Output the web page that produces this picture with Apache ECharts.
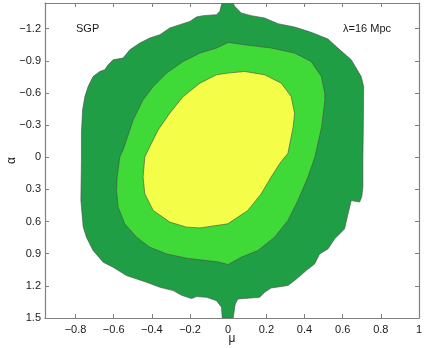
<!DOCTYPE html>
<html>
<head>
<meta charset="utf-8">
<script src="https://cdn.jsdelivr.net/npm/echarts@6/dist/echarts.min.js"></script>
<style>
html,body{margin:0;padding:0;background:#fff;}
#c{width:425px;height:348px;}
</style>
</head>
<body>
<div id="c"></div>
<script>
// Tick values
const muTicks = [-0.8, -0.6, -0.4, -0.2, 0, 0.2, 0.4, 0.6, 0.8, 1];
const alphaTicks = [-1.2, -0.9, -0.6, -0.3, 0, 0.3, 0.6, 0.9, 1.2, 1.5];

// Outer (lowest level) contour, [mu, alpha]
const outerContour = [
  [0.025,-1.44],[0.034,-1.409],[0.068,-1.347],[0.121,-1.322],[0.191,-1.300],[0.261,-1.247],
  [0.348,-1.216],[0.435,-1.166],[0.523,-1.104],[0.575,-1.020],[0.645,-0.910],[0.697,-0.754],
  [0.710,-0.660],[0.708,-0.255],[0.706,-0.003],[0.706,0.278],[0.700,0.369],[0.689,0.418],
  [0.645,0.404],[0.628,0.528],[0.610,0.668],[0.584,0.715],[0.558,0.761],[0.523,0.855],
  [0.479,0.902],[0.453,0.995],[0.409,1.057],[0.348,1.151],[0.313,1.197],[0.225,1.220],
  [0.191,1.260],[0.165,1.307],[0.051,1.323],[0.037,1.370],[0.026,1.5],
  [-0.031,1.5],[-0.035,1.400],[-0.061,1.338],[-0.113,1.307],[-0.166,1.300],[-0.192,1.319],
  [-0.244,1.288],[-0.288,1.244],[-0.358,1.213],[-0.428,1.166],[-0.533,1.104],[-0.603,1.026],
  [-0.655,0.979],[-0.708,0.870],[-0.743,0.746],[-0.760,0.649],[-0.772,0.399],[-0.769,0.025],
  [-0.769,-0.227],[-0.763,-0.442],[-0.751,-0.567],[-0.734,-0.660],[-0.708,-0.754],[-0.673,-0.801],
  [-0.647,-0.817],[-0.629,-0.863],[-0.603,-0.910],[-0.551,-0.926],[-0.515,-1.004],[-0.463,-1.066],
  [-0.411,-1.113],[-0.358,-1.144],[-0.306,-1.207],[-0.253,-1.238],[-0.201,-1.268],[-0.166,-1.310],
  [-0.131,-1.322],[-0.061,-1.331],[-0.044,-1.362],[-0.035,-1.425],[-0.031,-1.44]
];

// Middle contour
const middleContour = [
  [0,-1.072],[0.086,-1.050],[0.225,-1.020],[0.348,-0.973],[0.435,-0.894],[0.488,-0.754],
  [0.506,-0.599],[0.507,-0.536],[0.490,-0.286],[0.455,-0.006],[0.418,0.184],[0.366,0.402],
  [0.313,0.589],[0.243,0.746],[0.156,0.870],[0.068,0.933],[0,1.001],[-0.052,0.977],
  [-0.113,0.964],[-0.218,0.942],[-0.323,0.902],[-0.411,0.839],[-0.480,0.746],[-0.542,0.621],
  [-0.577,0.465],[-0.585,0.309],[-0.582,0.181],[-0.568,-0.003],[-0.551,-0.068],[-0.533,-0.162],
  [-0.498,-0.349],[-0.446,-0.536],[-0.393,-0.660],[-0.323,-0.786],[-0.236,-0.894],[-0.148,-0.973],
  [-0.061,-1.020]
];

// Inner contour
const innerContour = [
  [-0.002,-0.786],[0.086,-0.801],[0.191,-0.770],[0.278,-0.692],[0.330,-0.567],[0.348,-0.412],
  [0.341,-0.286],[0.313,-0.037],[0.271,0.056],[0.225,0.184],[0.173,0.341],[0.103,0.496],
  [-0.002,0.621],[-0.148,0.659],[-0.218,0.652],[-0.306,0.605],[-0.393,0.496],[-0.437,0.341],
  [-0.446,0.184],[-0.437,-0.003],[-0.411,-0.099],[-0.367,-0.255],[-0.306,-0.412],[-0.236,-0.567],
  [-0.148,-0.692],[-0.061,-0.770]
];

const contours = [outerContour, middleContour, innerContour];
const fills = ['#1f9e46', '#3fda37', '#f4fd48'];

const fmt = v => v < 0 ? '\u2212' + String(Math.abs(v)) : String(v);
const FONT = 'Liberation Sans, Arial, Helvetica, sans-serif';
const axisColor = '#808080';

function makeSeries(idx) {
  return {
    type: 'custom',
    coordinateSystem: 'cartesian2d',
    clip: true,
    silent: true,
    data: [[0, 0]],
    renderItem: function (params, api) {
      const pts = contours[idx].map(p => api.coord(p));
      return {
        type: 'polygon',
        shape: { points: pts },
        style: { fill: fills[idx], stroke: '#4a4a4a', lineWidth: 0.6 }
      };
    }
  };
}

function lineCfg() {
  return { show: true, onZero: false, lineStyle: { color: axisColor, width: 1.2 } };
}

const chart = echarts.init(document.getElementById('c'), null, { renderer: 'canvas' });
chart.setOption({
  animation: false,
  backgroundColor: '#ffffff',
  grid: { left: 45, right: 6, top: 3, bottom: 30, containLabel: false, outerBoundsMode: 'none' },
  xAxis: [
    {
      type: 'value', min: -0.96, max: 1, position: 'bottom',
      axisLine: lineCfg(),
      axisTick: { show: true, inside: true, length: 4, customValues: muTicks, lineStyle: { color: axisColor } },
      axisLabel: { customValues: muTicks, formatter: fmt, color: '#1a1a1a', fontSize: 11, margin: 6, fontFamily: FONT },
      splitLine: { show: false },
      name: 'μ', nameLocation: 'middle', nameGap: 15, nameMoveOverlap: false,
      nameTextStyle: { color: '#1a1a1a', fontSize: 12, fontFamily: FONT }
    },
    {
      type: 'value', min: -0.96, max: 1, position: 'top',
      axisLine: lineCfg(),
      axisTick: { show: true, inside: true, length: 4, customValues: muTicks, lineStyle: { color: axisColor } },
      axisLabel: { show: false },
      splitLine: { show: false }
    }
  ],
  yAxis: [
    {
      type: 'value', min: -1.44, max: 1.5, inverse: true, position: 'left',
      axisLine: lineCfg(),
      axisTick: { show: true, inside: true, length: 4, customValues: alphaTicks, lineStyle: { color: axisColor } },
      axisLabel: { customValues: alphaTicks, formatter: fmt, color: '#1a1a1a', fontSize: 11, margin: 4, fontFamily: FONT },
      splitLine: { show: false },
      name: 'α', nameLocation: 'middle', nameGap: 27, nameRotate: 90, nameMoveOverlap: false,
      nameTextStyle: { color: '#1a1a1a', fontSize: 12, fontFamily: FONT }
    },
    {
      type: 'value', min: -1.44, max: 1.5, inverse: true, position: 'right',
      axisLine: lineCfg(),
      axisTick: { show: true, inside: true, length: 4, customValues: alphaTicks, lineStyle: { color: axisColor } },
      axisLabel: { show: false },
      splitLine: { show: false }
    }
  ],
  graphic: [
    { type: 'text', left: 76, top: 23, style: { text: 'SGP', fill: '#1a1a1a', font: '11px ' + FONT } },
    { type: 'text', left: 343, top: 23, style: { text: 'λ=16 Mpc', fill: '#1a1a1a', font: '11px ' + FONT } }
  ],
  series: [makeSeries(0), makeSeries(1), makeSeries(2)]
});
</script>
</body>
</html>
